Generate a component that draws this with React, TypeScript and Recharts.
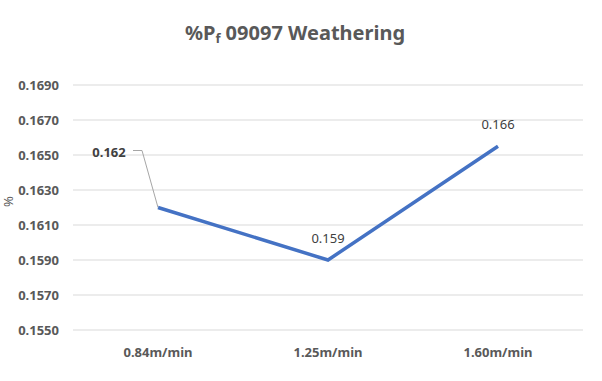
import { LineChart, Line, XAxis, YAxis, CartesianGrid, LabelList } from "recharts";

const speeds = ["0.84m/min", "1.25m/min", "1.60m/min"];
const pfValues = [0.162, 0.159, 0.1655];
const pfLabels = ["0.162", "0.159", "0.166"];
const yTicks = [0.155, 0.157, 0.159, 0.161, 0.163, 0.165, 0.167, 0.169];

const data = speeds.map((speed, i) => ({ speed, pf: pfValues[i], label: pfLabels[i] }));

const FONT = "'Noto Sans', 'Open Sans', sans-serif";

function PointLabel(props: any) {
  const { x, y, value, index } = props;
  if (index === 0) {
    return (
      <g>
        <polyline
          points={`${x - 25},${y - 57} ${x - 16},${y - 57} ${x},${y}`}
          fill="none"
          stroke="#a6a6a6"
          strokeWidth={1}
        />
        <text
          x={x - 49}
          y={y - 56}
          textAnchor="middle"
          dominantBaseline="central"
          fontSize={13}
          fontWeight="bold"
          fill="#404040"
          fontFamily={FONT}
        >
          {value}
        </text>
      </g>
    );
  }
  return (
    <text
      x={x}
      y={y - 22}
      textAnchor="middle"
      dominantBaseline="central"
      fontSize={13}
      fill="#404040"
      fontFamily={FONT}
    >
      {value}
    </text>
  );
}

function AxisTitle(props: any) {
  const { viewBox } = props;
  const cx = 8;
  const cy = viewBox.y + viewBox.height / 2 - 6;
  return (
    <text
      x={cx}
      y={cy}
      transform={`rotate(-90 ${cx} ${cy})`}
      textAnchor="middle"
      dominantBaseline="central"
      fontSize={13}
      fill="#595959"
      fontFamily={FONT}
    >
      %
    </text>
  );
}

export default function App() {
  return (
    <div style={{ position: "absolute", left: 0, top: 0, width: 602, height: 381, background: "#fff" }}>
      <div
        style={{
          position: "absolute",
          top: 18,
          left: 0,
          width: 590,
          textAlign: "center",
          fontFamily: FONT,
          fontSize: 20,
          fontWeight: "bold",
          color: "#595959",
          lineHeight: "30px",
        }}
      >
        %P<sub style={{ fontSize: 13, verticalAlign: "-3px" }}>f</sub> 09097 Weathering
      </div>
      <LineChart
        width={602}
        height={381}
        data={data}
        margin={{ top: 85, right: 19, bottom: 0, left: 0 }}
      >
        <CartesianGrid vertical={false} stroke="#d9d9d9" strokeWidth={1} />
        <XAxis
          dataKey="speed"
          height={51}
          padding={{ left: 85, right: 85 }}
          axisLine={false}
          tickLine={false}
          tickMargin={12}
          tick={{ fontSize: 13, fontWeight: "bold", fill: "#595959", fontFamily: FONT }}
        />
        <YAxis
          width={73}
          domain={[0.155, 0.169]}
          ticks={yTicks}
          interval={0}
          axisLine={false}
          tickLine={false}
          tickMargin={8}
          tickFormatter={(v: number) => v.toFixed(4)}
          tick={{ fontSize: 13, fontWeight: "bold", fill: "#595959", fontFamily: FONT }}
          label={<AxisTitle />}
        />
        <Line
          dataKey="pf"
          stroke="#4472c4"
          strokeWidth={3.5}
          dot={false}
          isAnimationActive={false}
        >
          <LabelList dataKey="label" content={<PointLabel />} />
        </Line>
      </LineChart>
    </div>
  );
}
